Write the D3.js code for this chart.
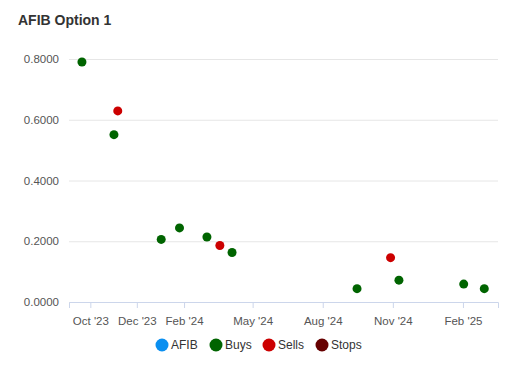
<!DOCTYPE html>
<html>
<head>
<meta charset="utf-8">
<script src="https://cdn.jsdelivr.net/npm/d3@7"></script>
<style>
  body { margin: 0; background: #fff; font-family: "Liberation Sans", Arial, sans-serif; }
  .grid line { stroke: #e6e6e6; }
  .grid path { display: none; }
  .tick text { fill: #555; font-size: 11.5px; font-family: "Liberation Sans", Arial, sans-serif; }
</style>
</head>
<body>
<svg id="chart"></svg>
<script>
var buyDates = ["2023-09-20", "2023-11-01", "2024-01-02", "2024-01-26", "2024-03-02", "2024-04-04", "2024-09-15", "2024-11-09", "2025-02-02", "2025-03-01"];
var buyValues = [0.790, 0.551, 0.206, 0.244, 0.214, 0.163, 0.044, 0.072, 0.059, 0.044];
var sellDates = ["2023-11-06", "2024-03-19", "2024-10-29"];
var sellValues = [0.629, 0.186, 0.146];
var xTickDates = ["2023-10-01", "2023-12-01", "2024-02-01", "2024-05-01", "2024-08-01", "2024-11-01", "2025-02-01"];
var yTicks = [0, 0.2, 0.4, 0.6, 0.8];
var legendNames = ["AFIB", "Buys", "Sells", "Stops"];
var legendColors = ["#0a8ff0", "#006400", "#cc0000", "#660000"];

var margin = {top: 59, right: 32, bottom: 78, left: 69};
var width = 530 - margin.left - margin.right,
    height = 380 - margin.top - margin.bottom;
var parse = d3.timeParse("%Y-%m-%d");

var svg = d3.select("#chart")
  .attr("width", 530)
  .attr("height", 380);

svg.append("text")
  .attr("x", 18)
  .attr("y", 25)
  .style("font-size", "14px")
  .style("font-weight", "bold")
  .style("fill", "#333")
  .text("AFIB Option 1");

var g = svg.append("g")
  .attr("transform", "translate(" + margin.left + "," + margin.top + ")");

var x = d3.scaleTime().range([0, width])
  .domain([parse("2023-09-03"), parse("2025-03-19")]);
var y = d3.scaleLinear().range([height, 0]).domain([0, 0.8]);

//Gridlines + y labels
g.append("g")
  .attr("class", "grid")
  .call(d3.axisLeft(y).tickValues(yTicks).tickSize(-width).tickPadding(10)
    .tickFormat(d3.format(".4f")));

//x axis
var xa = g.append("g")
  .attr("transform", "translate(0," + height + ")")
  .call(d3.axisBottom(x).tickValues(xTickDates.map(parse)).tickSize(6).tickPadding(9)
    .tickFormat(function(d){ return d3.timeFormat("%b '%y")(d); }));
xa.select(".domain").style("stroke", "#ccd6eb");
xa.selectAll(".tick line").style("stroke", "#ccd6eb");

//Points
var buys = buyDates.map(function(d, i){ return {date: parse(d), v: buyValues[i]}; });
var sells = sellDates.map(function(d, i){ return {date: parse(d), v: sellValues[i]}; });

g.selectAll(".buy").data(buys).enter().append("circle")
  .attr("class", "buy")
  .attr("cx", function(d){ return x(d.date); })
  .attr("cy", function(d){ return y(d.v); })
  .attr("r", 4.5)
  .style("fill", legendColors[1]);

g.selectAll(".sell").data(sells).enter().append("circle")
  .attr("class", "sell")
  .attr("cx", function(d){ return x(d.date); })
  .attr("cy", function(d){ return y(d.v); })
  .attr("r", 4.5)
  .style("fill", legendColors[2]);

//Legend
var legendX = [162, 216, 269, 322];
var legend = svg.append("g");
legendNames.forEach(function(name, i){
  legend.append("circle")
    .attr("cx", legendX[i])
    .attr("cy", 345)
    .attr("r", 6.5)
    .style("fill", legendColors[i]);
  legend.append("text")
    .attr("x", legendX[i] + 9)
    .attr("y", 349)
    .style("font-size", "12px")
    .style("fill", "#333")
    .text(name);
});
</script>
</body>
</html>
